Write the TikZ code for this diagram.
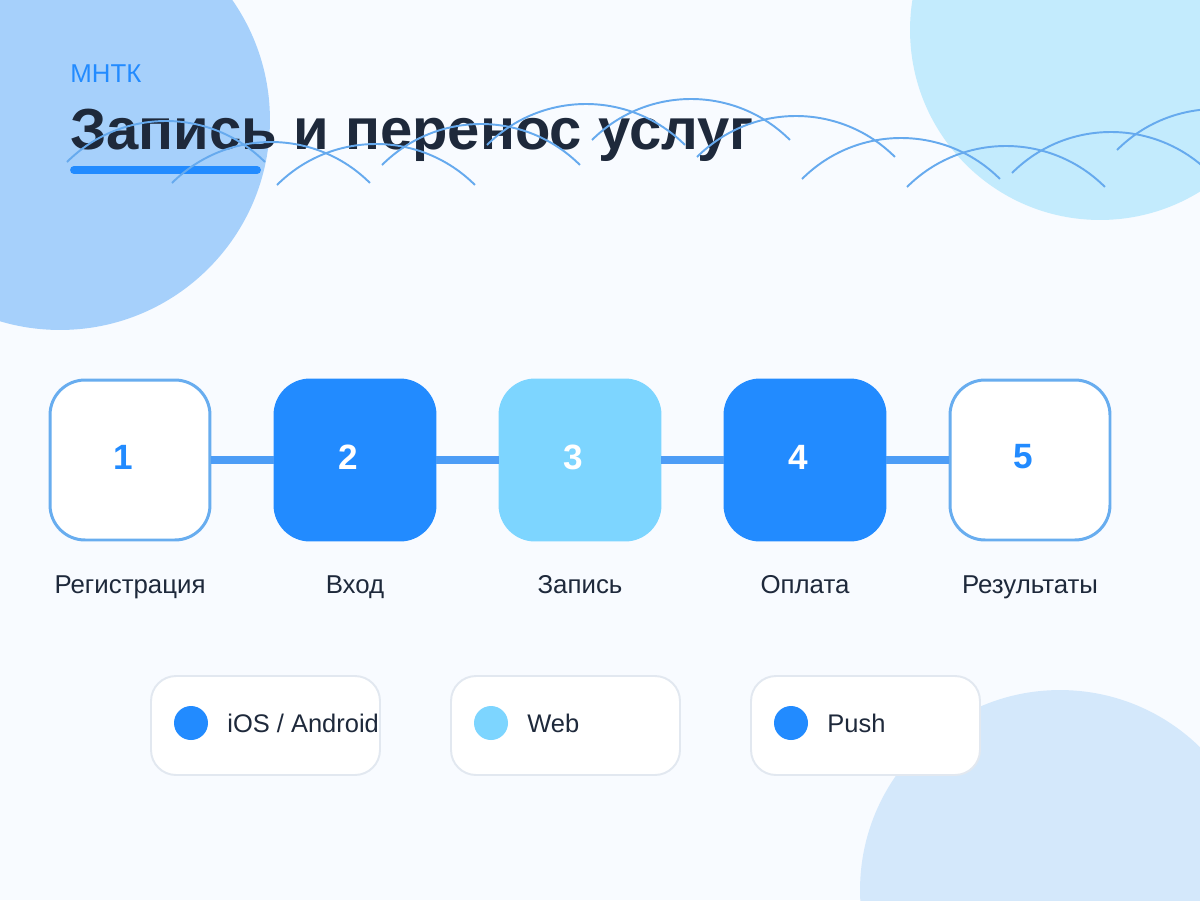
\documentclass[tikz,border=0pt]{standalone}
\usepackage{fontspec}
\setmainfont{Liberation Sans}

\definecolor{fond}{HTML}{F8FBFF}
\definecolor{bulleA}{HTML}{A6D0FB}
\definecolor{bulleB}{HTML}{C3EBFD}
\definecolor{bulleC}{HTML}{D4E8FB}
\definecolor{arcbleu}{HTML}{66AAEE}
\definecolor{encre}{HTML}{1E293B}
\definecolor{bleu}{HTML}{228BFF}
\definecolor{ciel}{HTML}{7DD5FF}
\definecolor{contour}{HTML}{68ADEF}
\definecolor{lienbleu}{HTML}{4D9DF6}
\definecolor{bordgris}{HTML}{E2E8F0}

\tikzset{
  arc/.style={draw=arcbleu, line width=1.1pt},
  etape/.style={minimum size=3.2cm, rounded corners=0.7cm, line width=1.7pt},
  blanche/.style={etape, draw=contour, fill=white},
  pleine/.style={etape, draw=#1, fill=#1},
  num/.style={font=\fontsize{20}{24}\selectfont\bfseries, inner sep=0pt},
  lien/.style={draw=lienbleu, line width=4pt},
  legende/.style={font=\fontsize{14.7}{17}\selectfont, text=encre, inner sep=0pt, anchor=base},
  carte/.style={draw=bordgris, fill=white, line width=1.1pt, rounded corners=0.5cm,
    minimum width=4.58cm, minimum height=1.98cm},
  pastille/.style={circle, minimum size=0.68cm, inner sep=0pt},
  texte/.style={font=\fontsize{14.5}{17}\selectfont, text=encre, inner sep=0pt, anchor=base west}
}

\begin{document}
\begin{tikzpicture}[x=0.02cm, y=-0.02cm]
    % Fond
    \fill[fond] (0,0) rectangle (1200,900);
    \useasboundingbox (0,0) rectangle (1200,900);
    \clip (0,0) rectangle (1200,900);
    % Bulles
    \fill[bulleA] (60,120) circle[radius=4.2cm];
    \fill[bulleB] (1100,30) circle[radius=3.8cm];
    \fill[bulleC] (1060,890) circle[radius=4cm];
    % Titre
    \node[anchor=base west, inner sep=0pt, text=bleu, font=\fontsize{14.7}{17}\selectfont] (marque) at (70,82) {МНТК};
    \node[anchor=base west, inner sep=0pt, text=encre, font=\fontsize{33}{38}\selectfont\bfseries] (titre) at (70,149) {Запись и перенос услуг};
    \draw[bleu, line width=4.5pt, line cap=round] (74,170) -- (257,170);
    % Arcs
    \draw[arc] (67,162)   arc[start angle=135, end angle=45, radius=2.8cm];
    \draw[arc] (172,183)  arc[start angle=135, end angle=45, radius=2.8cm];
    \draw[arc] (277,185)  arc[start angle=135, end angle=45, radius=2.8cm];
    \draw[arc] (382,165)  arc[start angle=135, end angle=45, radius=2.8cm];
    \draw[arc] (487,145)  arc[start angle=135, end angle=45, radius=2.8cm];
    \draw[arc] (592,140)  arc[start angle=135, end angle=45, radius=2.8cm];
    \draw[arc] (697,157)  arc[start angle=135, end angle=45, radius=2.8cm];
    \draw[arc] (802,179)  arc[start angle=135, end angle=45, radius=2.8cm];
    \draw[arc] (907,187)  arc[start angle=135, end angle=45, radius=2.8cm];
    \draw[arc] (1012,173) arc[start angle=135, end angle=45, radius=2.8cm];
    \draw[arc] (1117,150) arc[start angle=135, end angle=45, radius=2.8cm];
    % Etapes
    \node[blanche]     (s1) at (130,460)  {};
    \node[pleine=bleu] (s2) at (355,460)  {};
    \node[pleine=ciel] (s3) at (580,460)  {};
    \node[pleine=bleu] (s4) at (805,460)  {};
    \node[blanche]     (s5) at (1030,460) {};
    \draw[lien] (s1) -- (s2);
    \draw[lien] (s2) -- (s3);
    \draw[lien] (s3) -- (s4);
    \draw[lien] (s4) -- (s5);
    \node[num, text=bleu]  (n1) at (123,457)  {1};
    \node[num, text=white] (n2) at (348,457)  {2};
    \node[num, text=white] (n3) at (573,457)  {3};
    \node[num, text=white] (n4) at (798,457)  {4};
    \node[num, text=bleu]  (n5) at (1023,457) {5};
    % Noms des etapes
    \node[legende] (l1) at (130,593)  {Регистрация};
    \node[legende] (l2) at (355,593)  {Вход};
    \node[legende] (l3) at (580,593)  {Запись};
    \node[legende] (l4) at (805,593)  {Оплата};
    \node[legende] (l5) at (1030,593) {Результаты};
    % Plateformes
    \node[carte] (c1) at (265.5,725.5) {};
    \node[carte] (c2) at (565.5,725.5) {};
    \node[carte] (c3) at (865.5,725.5) {};
    \node[pastille, fill=bleu] (p1) at (191,723) {};
    \node[pastille, fill=ciel] (p2) at (491,723) {};
    \node[pastille, fill=bleu] (p3) at (791,723) {};
    \node[texte] (t1) at (227,732) {iOS / Android};
    \node[texte] (t2) at (527,732) {Web};
    \node[texte] (t3) at (827,732) {Push};
\end{tikzpicture}
\end{document}
